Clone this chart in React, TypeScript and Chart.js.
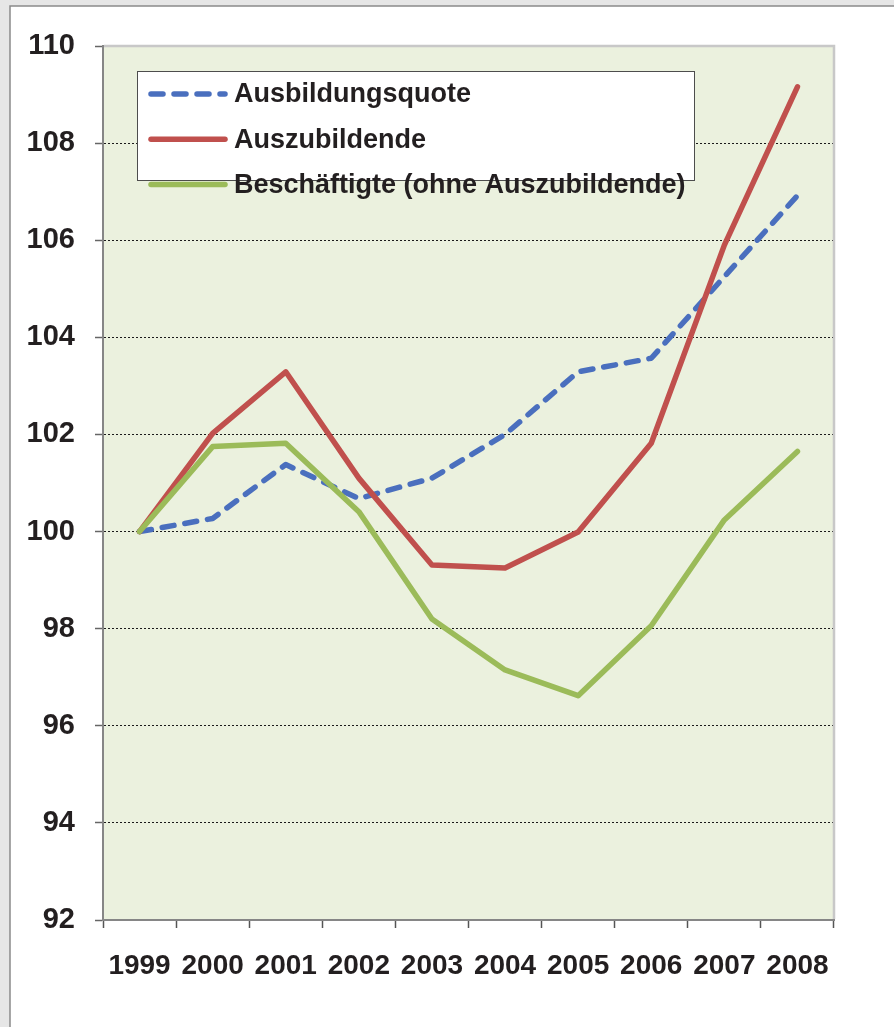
import { useEffect, useRef } from "react";
import { Chart, registerables } from "chart.js";

Chart.register(...registerables);

const years = ["1999", "2000", "2001", "2002", "2003", "2004", "2005", "2006", "2007", "2008"];
const ausbildungsquote = [100, 100.27, 101.38, 100.68, 101.1, 102.0, 103.29, 103.57, 105.25, 106.92];
const auszubildende = [100, 102.02, 103.29, 101.1, 99.31, 99.25, 99.99, 101.82, 105.9, 109.16];
const beschaeftigte = [100, 101.75, 101.82, 100.41, 98.2, 97.15, 96.62, 98.06, 100.24, 101.65];
const seriesNames = ["Ausbildungsquote", "Auszubildende", "Beschäftigte (ohne Auszubildende)"];
const yMin = 92;
const yMax = 110;
const yStep = 2;

const FONT = '"Liberation Sans", Arial, Helvetica, sans-serif';
const TEXT = "#231f20";

const framePlugin = {
  id: "frame",
  beforeDraw(chart: any) {
    const { ctx, width, height, chartArea: a } = chart;
    ctx.save();
    ctx.fillStyle = "#e6e6e6";
    ctx.fillRect(0, 0, width, height);
    ctx.fillStyle = "#ffffff";
    ctx.fillRect(10, 6, width - 10, height - 6);
    ctx.strokeStyle = "#8a8a8a";
    ctx.lineWidth = 1.5;
    ctx.beginPath();
    ctx.moveTo(10, height);
    ctx.lineTo(10, 6);
    ctx.lineTo(width, 6);
    ctx.stroke();
    ctx.fillStyle = "#EBF1DE";
    ctx.fillRect(a.left, a.top, a.right - a.left, a.bottom - a.top);
    ctx.restore();
  },
  beforeDatasetsDraw(chart: any) {
    const { ctx, chartArea: a } = chart;
    ctx.save();
    ctx.strokeStyle = "#c8c8c8";
    ctx.lineWidth = 2.5;
    ctx.beginPath();
    ctx.moveTo(a.left + 1, a.top);
    ctx.lineTo(a.right, a.top);
    ctx.lineTo(a.right, a.bottom - 1);
    ctx.stroke();
    ctx.restore();
  },
  afterDraw(chart: any) {
    const { ctx } = chart;
    ctx.save();
    const bx = 137.5, by = 71.5, bw = 557, bh = 109;
    ctx.fillStyle = "#ffffff";
    ctx.fillRect(bx, by, bw, bh);
    ctx.strokeStyle = "#4d4d4d";
    ctx.lineWidth = 1;
    ctx.strokeRect(bx, by, bw, bh);
    chart.data.datasets.forEach((ds: any, i: number) => {
      const y = 94 + i * 45.3;
      ctx.strokeStyle = ds.borderColor;
      ctx.lineWidth = ds.borderWidth;
      ctx.lineCap = "round";
      ctx.setLineDash(ds.borderDash || []);
      ctx.beginPath();
      ctx.moveTo(151, y);
      ctx.lineTo(225, y);
      ctx.stroke();
      ctx.setLineDash([]);
      ctx.fillStyle = TEXT;
      ctx.font = `bold 27px ${FONT}`;
      ctx.textBaseline = "middle";
      ctx.textAlign = "left";
      ctx.fillText(ds.label, 234, y + 1);
    });
    ctx.restore();
  },
};

export default function App() {
  const ref = useRef<HTMLCanvasElement | null>(null);
  useEffect(() => {
    document.body.style.margin = "0";
    if (!ref.current) return;
    const chart = new Chart(ref.current, {
      type: "line",
      data: {
        labels: years,
        datasets: [
          {
            label: seriesNames[0],
            data: ausbildungsquote,
            borderColor: "#4a6fbe",
            backgroundColor: "#4a6fbe",
            borderWidth: 5.5,
            borderDash: [12, 11],
            borderCapStyle: "round",
            borderJoinStyle: "round",
            pointRadius: 0,
            tension: 0,
            order: 2,
          },
          {
            label: seriesNames[1],
            data: auszubildende,
            borderColor: "#c0504d",
            backgroundColor: "#c0504d",
            borderWidth: 5.5,
            borderCapStyle: "round",
            borderJoinStyle: "round",
            pointRadius: 0,
            tension: 0,
            order: 1,
          },
          {
            label: seriesNames[2],
            data: beschaeftigte,
            borderColor: "#9bbb59",
            backgroundColor: "#9bbb59",
            borderWidth: 5.5,
            borderCapStyle: "round",
            borderJoinStyle: "round",
            pointRadius: 0,
            tension: 0,
            order: 0,
          },
        ],
      },
      options: {
        animation: false,
        responsive: false,
        maintainAspectRatio: false,
        layout: { padding: { top: 46, right: 60, left: 0, bottom: 0 } },
        plugins: { legend: { display: false }, tooltip: { enabled: false } },
        scales: {
          x: {
            offset: true,
            grid: {
              offset: true,
              drawOnChartArea: false,
              drawTicks: true,
              tickLength: 8,
              tickColor: "#555555",
              tickWidth: 1.5,
            },
            border: { display: true, color: "#868686", width: 2 },
            ticks: {
              font: { family: FONT, size: 28, weight: "bold" },
              color: TEXT,
              padding: 21,
              maxRotation: 0,
              autoSkip: false,
            },
            afterFit: (s: any) => {
              s.height = 107;
            },
          },
          y: {
            min: yMin,
            max: yMax,
            ticks: {
              stepSize: yStep,
              font: { family: FONT, size: 29, weight: "bold" },
              color: TEXT,
              padding: 20,
            },
            grid: {
              color: (c: any) =>
                c.tick && (c.tick.value === yMax || c.tick.value === yMin) ? "rgba(0,0,0,0)" : "#1a1a1a",
              lineWidth: 1,
              drawTicks: true,
              tickLength: 8,
              tickColor: "#666666",
              tickWidth: 1.5,
              tickBorderDash: [],
            },
            border: { display: true, color: "#868686", width: 2, dash: [2, 2] },
            afterFit: (s: any) => {
              s.width = 103;
            },
          },
        },
      },
      plugins: [framePlugin],
    } as any);
    return () => chart.destroy();
  }, []);
  return (
    <div style={{ width: 894, height: 1027, position: "relative" }}>
      <canvas ref={ref} width={894} height={1027} style={{ display: "block" }} />
    </div>
  );
}
